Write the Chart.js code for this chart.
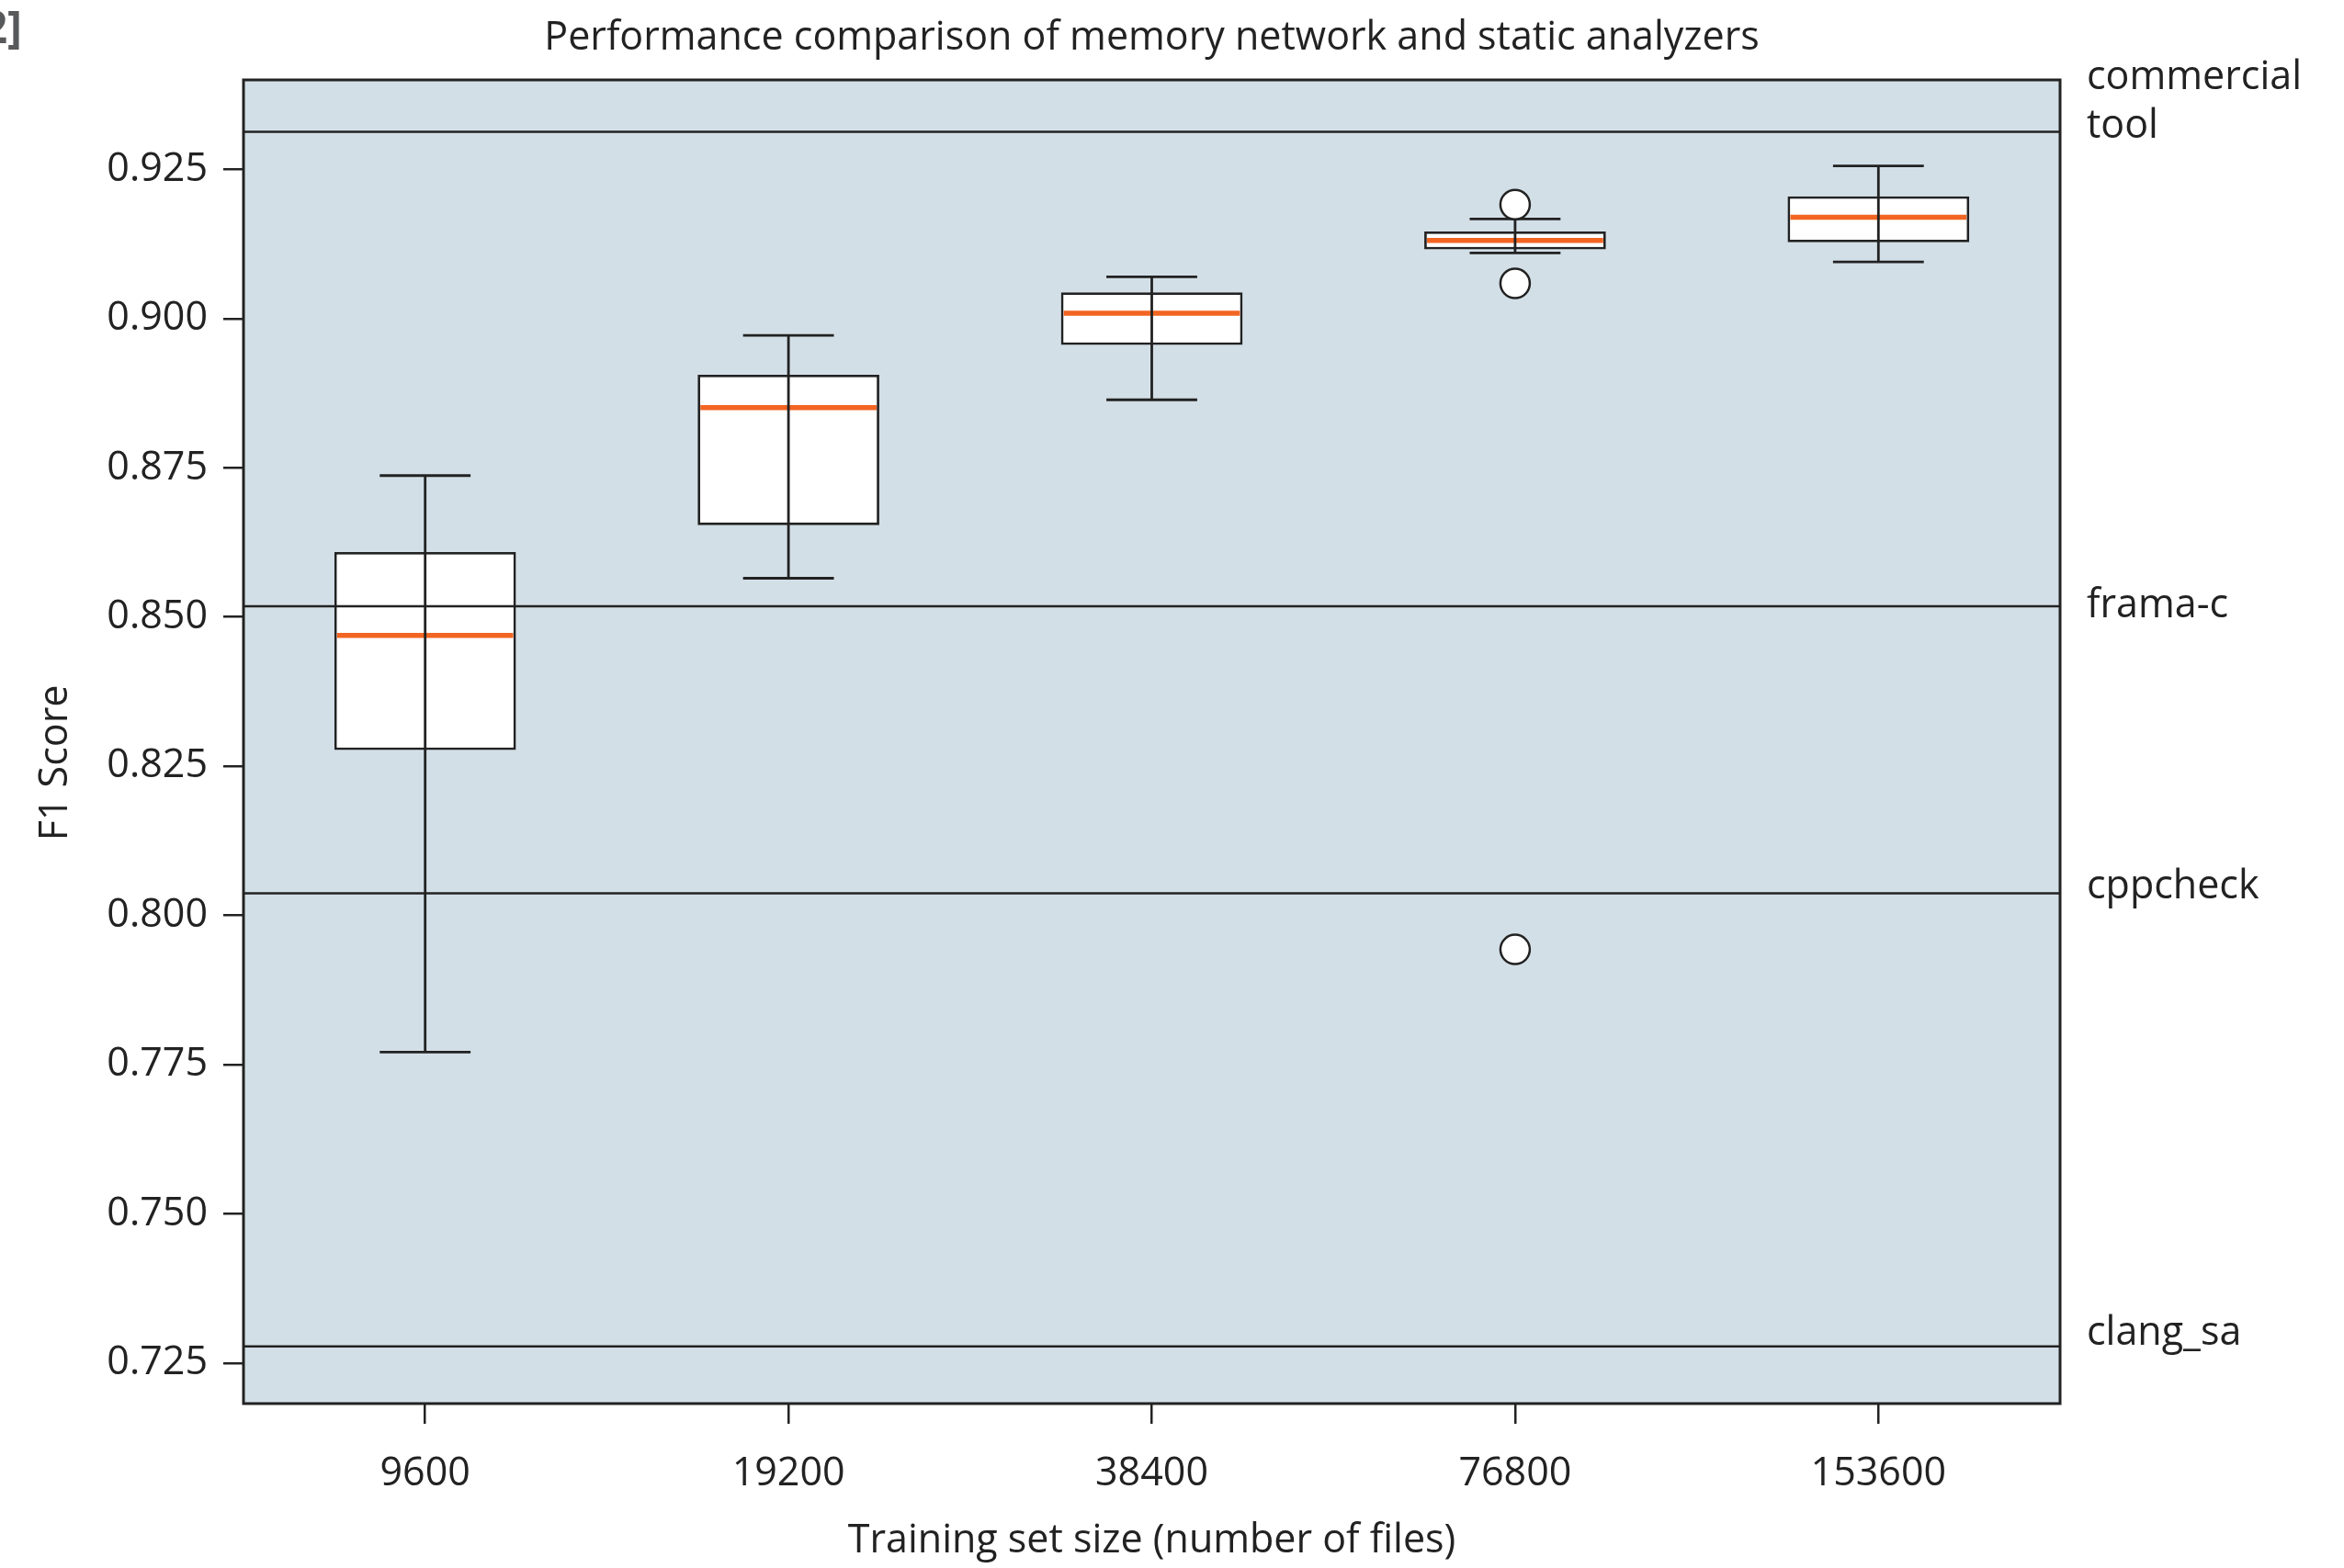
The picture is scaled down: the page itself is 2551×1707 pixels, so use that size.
<!DOCTYPE html>
<html>
<head>
<meta charset="utf-8">
<title>Performance comparison of memory network and static analyzers</title>
<script src="https://cdn.jsdelivr.net/npm/chart.js@4.4.1/dist/chart.umd.min.js"></script>
<style>
  html, body { margin: 0; padding: 0; background: #fff; }
  canvas { display: block; }
</style>
</head>
<body>
<canvas id="chart" width="2551" height="1707"></canvas>
<script>
// === data ===
// training set sizes (x categories)
const categories = ['9600', '19200', '38400', '76800', '153600'];

// box plot statistics per training set size
const whiskerLow  = [0.7771, 0.8565, 0.8864, 0.9110, 0.9095];
const quartile1   = [0.8277, 0.8654, 0.8956, 0.9116, 0.9128];
const medians     = [0.8469, 0.8851, 0.9009, 0.9131, 0.9170];
const quartile3   = [0.8609, 0.8906, 0.9044, 0.9146, 0.9205];
const whiskerHigh = [0.8737, 0.8972, 0.9070, 0.9167, 0.9256];

// fliers
const outlierCategory = ['76800', '76800', '76800'];
const outlierValues   = [0.9191, 0.9059, 0.7943];

// static analyzer scores (horizontal reference lines)
const refNames  = [['commercial', 'tool'], ['frama-c'], ['cppcheck'], ['clang_sa']];
const refValues = [0.9313, 0.8518, 0.8037, 0.7278];

// y axis ticks
const yTicks = [0.725, 0.750, 0.775, 0.800, 0.825, 0.850, 0.875, 0.900, 0.925];

// --- styling ---
const INK = '#222222';
const PLOT_BG = '#d3dfe7';
const MEDIAN_COLOR = '#f26522';
const FONT = '"Open Sans", "DejaVu Sans", sans-serif';
const FONT_SIZE = 43;
// small vertical nudges (px) of the analyzer names, as placed in the original
const refLabelNudge = [2, 0, -7, -14];

Chart.defaults.font.family = FONT;
Chart.defaults.font.size = FONT_SIZE;
Chart.defaults.color = INK;

// whiskers, medians, analyzer lines and frame
const boxExtras = {
    id: 'boxExtras',
    beforeDatasetsDraw(chart) {
        const { ctx, chartArea: a } = chart;
        ctx.save();
        ctx.fillStyle = PLOT_BG;
        ctx.fillRect(a.left, a.top, a.width, a.height);
        ctx.restore();
    },
    afterDatasetDraw(chart, args) {
        if (args.index !== 0) return;
        const { ctx, chartArea: a, scales: { y } } = chart;
        const meta = chart.getDatasetMeta(0);
        ctx.save();

        // medians
        ctx.strokeStyle = MEDIAN_COLOR;
        ctx.lineWidth = 5.5;
        meta.data.forEach((bar, i) => {
            const half = bar.width / 2 - 3;
            const py = y.getPixelForValue(medians[i]);
            ctx.beginPath();
            ctx.moveTo(bar.x - half, py);
            ctx.lineTo(bar.x + half, py);
            ctx.stroke();
        });

        // analyzer lines
        ctx.strokeStyle = INK;
        ctx.lineWidth = 2.5;
        refValues.forEach(v => {
            const py = y.getPixelForValue(v);
            ctx.beginPath();
            ctx.moveTo(a.left, py);
            ctx.lineTo(a.right, py);
            ctx.stroke();
        });

        // analyzer names to the right of the plot
        ctx.fillStyle = INK;
        ctx.font = FONT_SIZE + 'px ' + FONT;
        ctx.textAlign = 'left';
        refValues.forEach((v, k) => {
            const py = y.getPixelForValue(v) + refLabelNudge[k];
            const lines = refNames[k];
            if (lines.length === 1) {
                ctx.textBaseline = 'middle';
                ctx.fillText(lines[0], a.right + 29, py);
            } else {
                ctx.textBaseline = 'alphabetic';
                lines.forEach((t, j) => {
                    ctx.fillText(t, a.right + 29, py + 4 - (lines.length - 1 - j) * 53);
                });
            }
        });

        // whiskers (drawn through the box like the original)
        ctx.strokeStyle = INK;
        ctx.lineWidth = 2.8;
        meta.data.forEach((bar, i) => {
            const lo = y.getPixelForValue(whiskerLow[i]);
            const hi = y.getPixelForValue(whiskerHigh[i]);
            const cap = bar.width / 4;
            ctx.beginPath();
            ctx.moveTo(bar.x, hi);
            ctx.lineTo(bar.x, lo);
            ctx.moveTo(bar.x - cap, hi);
            ctx.lineTo(bar.x + cap, hi);
            ctx.moveTo(bar.x - cap, lo);
            ctx.lineTo(bar.x + cap, lo);
            ctx.stroke();
        });
        ctx.restore();
    },
    afterDraw(chart) {
        const { ctx, chartArea: a } = chart;
        ctx.save();
        ctx.strokeStyle = INK;
        ctx.lineWidth = 3;
        ctx.strokeRect(a.left, a.top, a.width, a.height);

        // y axis title (sits a little below the axis centre in the original)
        ctx.fillStyle = INK;
        ctx.font = FONT_SIZE + 'px ' + FONT;
        ctx.textAlign = 'center';
        ctx.textBaseline = 'middle';
        ctx.translate(61, (a.top + a.bottom) / 2 + 23);
        ctx.rotate(-Math.PI / 2);
        ctx.fillText('F1 Score', 0, 0);
        ctx.restore();

        // cut-off reference marker in the corner
        ctx.save();
        ctx.fillStyle = '#58595b';
        ctx.font = 'bold 48px ' + FONT;
        ctx.textAlign = 'right';
        ctx.textBaseline = 'alphabetic';
        ctx.fillText('[2]', 24, 47);
        ctx.restore();
    }
};

new Chart(document.getElementById('chart'), {
    type: 'bar',
    data: {
        labels: categories,
        datasets: [{
            label: 'F1 score',
            data: categories.map((_, i) => [quartile1[i], quartile3[i]]),
            backgroundColor: '#ffffff',
            borderColor: INK,
            borderWidth: 2.8,
            borderSkipped: false,
            barPercentage: 0.5,
            categoryPercentage: 1.0,
            order: 2
        }, {
            type: 'scatter',
            label: 'outliers',
            data: outlierValues.map((v, i) => ({ x: outlierCategory[i], y: v })),
            pointRadius: 16,
            pointBackgroundColor: '#ffffff',
            pointBorderColor: INK,
            pointBorderWidth: 2.5,
            order: 1
        }]
    },
    options: {
        responsive: false,
        animation: false,
        devicePixelRatio: 1,
        events: [],
        layout: { padding: { left: 0, right: 309, top: 0, bottom: 0 } },
        plugins: {
            legend: { display: false },
            tooltip: { enabled: false },
            title: {
                display: true,
                text: 'Performance comparison of memory network and static analyzers',
                fullSize: false,
                color: INK,
                font: { size: FONT_SIZE, weight: 'normal', lineHeight: 1.2 },
                padding: { top: 16, bottom: 19.4 }
            }
        },
        scales: {
            x: {
                type: 'category',
                offset: true,
                grid: { display: true, offset: false, drawOnChartArea: false, drawTicks: true, tickLength: 22, color: INK, lineWidth: 2.5 },
                border: { display: false },
                ticks: { padding: 29, maxRotation: 0, autoSkip: false, color: INK, font: { size: FONT_SIZE } },
                title: {
                    display: true,
                    text: 'Training set size (number of files)',
                    color: INK,
                    font: { size: FONT_SIZE, lineHeight: 1.2 },
                    padding: { top: 0, bottom: 3 }
                },
                afterFit(scale) { scale.height = 179; }
            },
            y: {
                type: 'linear',
                min: 0.7182,
                max: 0.9400,
                grid: { display: true, drawOnChartArea: false, drawTicks: true, tickLength: 22, color: INK, lineWidth: 2.5 },
                border: { display: false },
                ticks: {
                    padding: 17,
                    color: INK,
                    font: { size: FONT_SIZE },
                    callback: v => Number(v).toFixed(3)
                },
                afterBuildTicks(scale) { scale.ticks = yTicks.map(v => ({ value: v })); },
                afterFit(scale) { scale.width = 265; }
            }
        }
    },
    plugins: [boxExtras]
});
</script>
</body>
</html>
